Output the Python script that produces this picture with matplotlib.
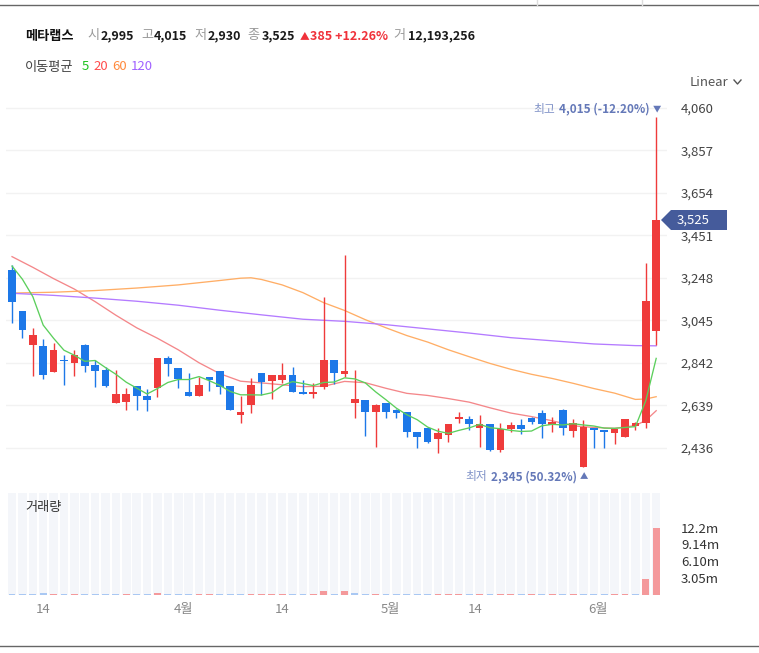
import matplotlib
matplotlib.use("Agg")
import matplotlib.pyplot as plt
import matplotlib.transforms as mtransforms
from matplotlib.patches import Polygon
from matplotlib.lines import Line2D

plt.rcParams['font.family'] = ['Noto Sans CJK KR', 'DejaVu Sans']

# --- data (prices in KRW, volume in millions of shares) ---
opens = [3286, 3090, 2928, 2923, 2800, 2853, 2843, 2928, 2832, 2809,
         2650, 2654, 2734, 2686, 2721, 2864, 2817, 2702, 2686, 2774,
         2802, 2732, 2592, 2640, 2796, 2756, 2761, 2785, 2705, 2692,
         2726, 2856, 2788, 2650, 2665, 2607, 2650, 2617, 2607, 2514,
         2530, 2478, 2498, 2573, 2574, 2530, 2551, 2426, 2525, 2546,
         2578, 2605, 2546, 2617, 2519, 2345, 2530, 2519, 2509, 2490,
         2541, 2557, 2995]
highs = [3310, 3090, 3008, 2955, 2939, 2880, 2904, 2935, 2856, 2824,
         2809, 2721, 2734, 2716, 2864, 2875, 2817, 2796, 2777, 2774,
         2802, 2732, 2684, 2769, 2796, 2785, 2841, 2824, 2761, 2748,
         3159, 2856, 3358, 2809, 2665, 2646, 2650, 2620, 2607, 2514,
         2530, 2530, 2551, 2609, 2589, 2594, 2551, 2557, 2559, 2573,
         2582, 2617, 2585, 2620, 2573, 2570, 2530, 2522, 2525, 2575,
         2562, 3321, 4015]
lows = [3034, 2963, 2780, 2764, 2800, 2737, 2780, 2800, 2729, 2728,
        2650, 2617, 2617, 2613, 2681, 2780, 2721, 2686, 2686, 2710,
        2694, 2617, 2554, 2605, 2689, 2669, 2748, 2705, 2692, 2673,
        2717, 2742, 2777, 2578, 2495, 2439, 2578, 2581, 2490, 2435,
        2458, 2411, 2463, 2554, 2522, 2442, 2422, 2418, 2514, 2503,
        2551, 2482, 2514, 2498, 2490, 2345, 2435, 2435, 2455, 2490,
        2522, 2530, 2930]
closes = [3135, 3000, 2976, 2785, 2904, 2851, 2879, 2829, 2805, 2734,
          2692, 2692, 2686, 2665, 2864, 2836, 2764, 2686, 2737, 2761,
          2729, 2617, 2608, 2737, 2753, 2785, 2785, 2705, 2692, 2705,
          2856, 2796, 2804, 2670, 2607, 2641, 2609, 2602, 2514, 2490,
          2466, 2509, 2551, 2585, 2551, 2551, 2426, 2527, 2546, 2525,
          2562, 2551, 2562, 2530, 2554, 2535, 2522, 2514, 2525, 2574,
          2557, 3140, 3525]
volumes = [0.005, 0.005, 0.005, 0.25, 0.005, 0.005, 0.005, 0.005, 0.005, 0.005,
           0.005, 0.005, 0.005, 0.005, 0.20, 0.005, 0.005, 0.005, 0.005, 0.005,
           0.005, 0.005, 0.005, 0.005, 0.005, 0.005, 0.005, 0.005, 0.005, 0.005,
           0.55, 0.005, 0.55, 0.20, 0.005, 0.005, 0.005, 0.005, 0.005, 0.005,
           0.005, 0.005, 0.005, 0.005, 0.005, 0.005, 0.005, 0.005, 0.005, 0.005,
           0.005, 0.005, 0.005, 0.005, 0.005, 0.005, 0.005, 0.005, 0.005, 0.005,
           0.005, 2.83, 12.19]

ma5 = [3305, 3242, 3159, 3023, 2960, 2903, 2879, 2850, 2854, 2820,
       2788, 2750, 2722, 2694, 2720, 2749, 2763, 2763, 2777, 2757,
       2735, 2706, 2690, 2690, 2689, 2700, 2734, 2753, 2744, 2734,
       2749, 2751, 2771, 2766, 2747, 2704, 2666, 2626, 2595, 2571,
       2536, 2516, 2506, 2520, 2532, 2549, 2533, 2528, 2520, 2515,
       2517, 2542, 2549, 2546, 2552, 2546, 2541, 2531, 2530, 2534,
       2538, 2662, 2864]
ma20_x = [0, 2, 4, 6, 8, 10, 12, 14, 16, 18, 20, 22, 24, 26, 28, 30, 32,
          34, 36, 38, 40, 42, 44, 46, 48, 50, 52, 54, 56, 58, 60, 61, 62]
ma20 = [3350, 3299, 3245, 3195, 3135, 3070, 3010, 2960, 2905, 2843, 2791,
        2755, 2747, 2738, 2729, 2731, 2754, 2748, 2721, 2697, 2687, 2672,
        2655, 2628, 2603, 2586, 2566, 2542, 2534, 2530, 2543, 2568, 2614]
ma60_x = [0, 4, 8, 12, 16, 20, 22, 23, 24, 26, 28, 30, 32, 34, 36, 38, 40,
          42, 44, 46, 48, 50, 52, 54, 56, 58, 60, 61, 62]
ma60 = [3176, 3180, 3188, 3200, 3215, 3236, 3247, 3249, 3241, 3215, 3178,
        3130, 3093, 3049, 3010, 2973, 2942, 2905, 2872, 2840, 2812, 2788,
        2768, 2745, 2720, 2698, 2668, 2670, 2681]
ma120_x = [0, 4, 8, 12, 16, 20, 24, 28, 32, 36, 40, 44, 48, 52, 56, 60, 62]
ma120 = [3175, 3165, 3152, 3137, 3118, 3094, 3072, 3051, 3041, 3025, 3005,
         2985, 2963, 2948, 2933, 2925, 2924]

price_ticks = [2436, 2639, 2842, 3045, 3248, 3451, 3654, 3857, 4060]
vol_ticks = [3.05, 6.10, 9.14, 12.19]
vol_tick_labels = ['3.05m', '6.10m', '9.14m', '12.2m']
date_tick_pos = [3, 16.5, 26, 36.4, 44.6, 56.4]
date_tick_labels = ['14', '4월', '14', '5월', '14', '6월']

UP, DOWN = '#ef3b3b', '#1d78e8'
UP_VOL, DOWN_VOL = '#f4999b', '#a9c8f3'
NOTE = '#6478b8'

W, H = 759, 653
fig = plt.figure(figsize=(W / 100, H / 100), dpi=100)


def fx(px):
    return px / W


def fy(py):
    return 1 - py / H


ax = fig.add_axes([fx(6), fy(488), fx(667) - fx(6), fy(92) - fy(488)])
axv = fig.add_axes([fx(6), fy(594.5), fx(667) - fx(6), fy(493) - fy(594.5)], sharex=ax)

idx = list(range(len(closes)))
ybot, ytop = 2244.9, 4136.4
ppp = (ytop - ybot) / (488 - 92)  # price per pixel
ax.set_ylim(ybot, ytop)
ax.set_xlim(-0.58, 63.04)

# candles
colors = [UP if c >= o else DOWN for o, c in zip(opens, closes)]
ax.vlines(idx, lows, highs, colors=colors, lw=1.0, zorder=3)
ax.bar(idx, [max(abs(c - o), 1.2 * ppp) for o, c in zip(opens, closes)],
       bottom=[min(o, c) for o, c in zip(opens, closes)], width=0.74,
       color=colors, zorder=4)

# moving averages
ax.plot(idx, ma5, color='#5ccf5c', lw=0.95, zorder=5)
ax.plot(ma20_x, ma20, color='#f4878a', lw=0.95, zorder=2)
ax.plot(ma60_x, ma60, color='#ffae66', lw=0.95, zorder=2)
ax.plot(ma120_x, ma120, color='#b47bff', lw=0.95, zorder=2)

ax.set_yticks(price_ticks, [f'{v:,}' for v in price_ticks])
ax.yaxis.tick_right()
ax.tick_params(axis='y', length=0, pad=10, labelsize=9.5, labelcolor='#444')
ax.tick_params(axis='x', bottom=False, labelbottom=False)
ax.grid(axis='y', color='#f2f2f2', lw=1)
for s in ax.spines.values():
    s.set_visible(False)

# high / low notes, built right to left
renderer = fig.canvas.get_renderer()


def note(i, y, dy, parts):
    x = 3.6
    for s, size, color, weight in parts:
        t = ax.annotate(s, xy=(i, y), xytext=(x, dy), textcoords='offset points',
                        ha='right', va='center', fontsize=size, color=color,
                        fontweight=weight)
        x -= t.get_window_extent(renderer).width * 72 / 100 + 2.5


hi = highs.index(max(highs))
lo = lows.index(min(lows))
last = closes[-1]
note(hi, highs[hi], 6, [('▼', 6, NOTE, 'normal'),
                        (f'{highs[hi]:,} ({(last - highs[hi]) / highs[hi] * 100:.2f}%)', 8.5, NOTE, 'bold'),
                        ('최고', 8.5, '#8193c8', 'normal')])
note(lo, lows[lo], -7, [('▲', 6, NOTE, 'normal'),
                        (f'{lows[lo]:,} ({(last - lows[lo]) / lows[lo] * 100:.2f}%)', 8.5, NOTE, 'bold'),
                        ('최저', 8.5, '#8193c8', 'normal')])

# last price tag
tr = mtransforms.blended_transform_factory(fig.transFigure, ax.transData)
hh = 10 * ppp
tag = Polygon([(fx(661), last), (fx(671), last + hh), (fx(727), last + hh),
               (fx(727), last - hh), (fx(671), last - hh)],
              closed=True, transform=tr, facecolor='#455b9b', edgecolor='none',
              clip_on=False, zorder=6)
ax.add_patch(tag)
ax.text(fx(677), last, f'{last:,}', transform=tr, ha='left', va='center',
        fontsize=9.5, color='white', zorder=7)

# volume panel
vmax = 18.54
axv.set_ylim(0, vmax)
axv.bar(idx, [vmax] * len(idx), width=0.82, color='#f4f6fa', zorder=0)
vcolors = [DOWN_VOL] + [UP_VOL if closes[i] >= closes[i - 1] else DOWN_VOL
                        for i in range(1, len(closes))]
axv.bar(idx, volumes, width=0.66, color=vcolors, zorder=2)
axv.set_yticks(vol_ticks, vol_tick_labels)
axv.yaxis.tick_right()
axv.tick_params(axis='y', length=0, pad=10, labelsize=9.5, labelcolor='#333')
axv.set_xticks(date_tick_pos, date_tick_labels)
axv.tick_params(axis='x', length=0, pad=6, labelsize=9.5, labelcolor='#888')
for s in axv.spines.values():
    s.set_visible(False)
fig.text(fx(25), fy(507), '거래량', fontsize=9.5, color='#333', va='center')

# header
hy = fy(36)
runs = [(25, '메타랩스', '#111', 'bold', 9.5), (87, '시', '#9a9a9a', 'normal', 9.5),
        (101, '2,995', '#1a1a1a', 'bold', 9), (141, '고', '#9a9a9a', 'normal', 9.5),
        (154, '4,015', '#1a1a1a', 'bold', 9), (194, '저', '#9a9a9a', 'normal', 9.5),
        (208, '2,930', '#1a1a1a', 'bold', 9), (247, '종', '#9a9a9a', 'normal', 9.5),
        (262, '3,525', '#1a1a1a', 'bold', 9), (299.5, '▲', '#f0313a', 'normal', 7),
        (310, '385 +12.26%', '#f0313a', 'bold', 9), (393, '거', '#9a9a9a', 'normal', 9.5),
        (408, '12,193,256', '#1a1a1a', 'bold', 9)]
for x, s, c, wt, size in runs:
    fig.text(fx(x), hy, s, color=c, fontweight=wt, fontsize=size, va='center')

my = fy(67)
for x, s, c in [(25, '이동평균', '#444'), (82, '5', '#1ec31e'), (93, '20', '#ff4d4d'),
                (112, '60', '#ff8a3d'), (131, '120', '#a162ff')]:
    fig.text(fx(x), my, s, color=c, fontsize=9.5, va='center')

fig.text(fx(690), fy(82), 'Linear', color='#555', fontsize=9.5, va='center')
fig.add_artist(Line2D([fx(734), fx(737.5), fx(741)], [fy(80), fy(84), fy(80)],
                      color='#555', lw=1))

# frame lines
fig.add_artist(Line2D([0, 1], [fy(5), fy(5)], color='#666', lw=1))
for x in (537, 642):
    fig.add_artist(Line2D([fx(x), fx(x)], [1, fy(5)], color='#ddd', lw=1))
fig.add_artist(Line2D([0, 1], [fy(646), fy(646)], color='#666', lw=1))

fig.savefig('out.png', dpi=100)
